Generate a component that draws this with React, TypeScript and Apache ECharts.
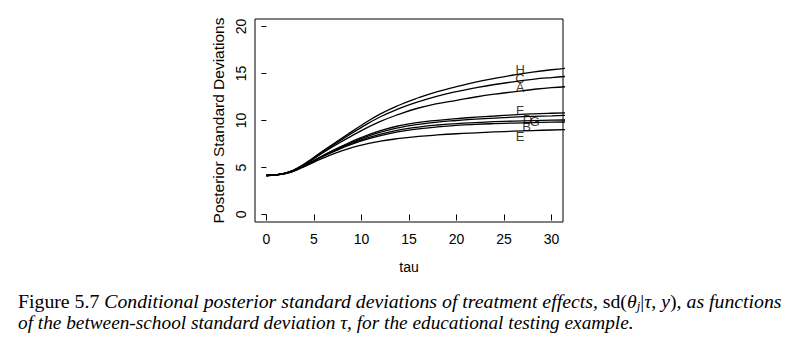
import React, { useEffect, useRef } from "react";
import * as echarts from "echarts";

const tauGrid = [0, 2, 4, 6, 8, 10, 12, 14, 16, 18, 20, 22, 24, 26, 28, 30, 32];

const schoolNames = ["H", "C", "A", "F", "D", "G", "B", "E"];

const sdH = [4.15, 4.4, 5.4, 6.8, 8.15, 9.5, 10.7, 11.65, 12.42, 13.07, 13.6, 14.08, 14.48, 14.84, 15.15, 15.4, 15.6];
const sdC = [4.15, 4.4, 5.35, 6.7, 8.0, 9.27, 10.4, 11.28, 12.0, 12.6, 13.08, 13.48, 13.83, 14.12, 14.38, 14.57, 14.72];
const sdA = [4.15, 4.4, 5.3, 6.6, 7.8, 8.92, 9.9, 10.68, 11.33, 11.8, 12.15, 12.5, 12.8, 13.05, 13.3, 13.5, 13.62];
const sdF = [4.15, 4.38, 5.2, 6.3, 7.3, 8.2, 8.92, 9.45, 9.8, 10.02, 10.2, 10.35, 10.48, 10.6, 10.7, 10.77, 10.82];
const sdD = [4.15, 4.37, 5.18, 6.27, 7.24, 8.08, 8.76, 9.25, 9.58, 9.83, 10.0, 10.14, 10.26, 10.36, 10.44, 10.5, 10.55];
const sdG = [4.15, 4.37, 5.16, 6.22, 7.16, 7.95, 8.55, 9.0, 9.3, 9.52, 9.67, 9.78, 9.87, 9.94, 9.99, 10.03, 10.06];
const sdB = [4.15, 4.36, 5.15, 6.2, 7.08, 7.83, 8.4, 8.82, 9.11, 9.32, 9.48, 9.59, 9.67, 9.73, 9.78, 9.82, 9.85];
const sdE = [4.15, 4.35, 5.1, 6.02, 6.8, 7.38, 7.8, 8.09, 8.3, 8.46, 8.59, 8.69, 8.78, 8.86, 8.93, 8.99, 9.04];

const curves = [sdH, sdC, sdA, sdF, sdD, sdG, sdB, sdE];

// letter labels: [tau, sd, letter]
const letterLabels: [number, number, string][] = [
  [26.69, 15.46, "H"],
  [26.67, 14.47, "C"],
  [26.69, 13.59, "A"],
  [26.67, 11.12, "F"],
  [27.45, 10.14, "D"],
  [28.23, 9.93, "G"],
  [27.38, 9.39, "B"],
  [26.69, 8.33, "E"],
];

const xTicks = [0, 5, 10, 15, 20, 25, 30];
const yTicks = [0, 5, 10, 15, 20];

const captionLine1 =
  "{r|Figure 5.7 }{i|Conditional posterior standard deviations of treatment effects, }{r|sd(}{i|θ}{sub|j}{r||}{i|τ}{r|, }{i|y}{r|), }{i|as functions}";
const captionLine2 =
  "{i|of the between-school standard deviation τ, for the educational testing example.}";

export default function App() {
  const ref = useRef<HTMLDivElement>(null);
  useEffect(() => {
    if (!ref.current) return;
    const chart = echarts.init(ref.current, null, { renderer: "svg" });
    const sans = "Liberation Sans";
    const serif = "Liberation Serif";
    const lineSeries = curves.map((vals, k) => ({
      type: "line",
      name: schoolNames[k],
      data: tauGrid.map((t, i) => [t, vals[i]]),
      showSymbol: false,
      symbol: "none",
      smooth: 0.5,
      clip: true,
      color: "#000",
      lineStyle: { color: "#000", width: 1.3 },
      z: 2,
    }));
    const capSize = 19.8;
    const labelStyle = {
      show: true,
      position: "top",
      distance: 0,
      offset: [0, 7],
      formatter: (p: any) => p.name,
      fontFamily: sans,
      fontSize: 13,
      color: "#000",
      textBorderWidth: 0,
    };
    const option = {
      animation: false,
      backgroundColor: "#fff",
      color: ["#000"],
      grid: {
        left: 255,
        top: 19,
        width: 308,
        height: 203,
        show: true,
        borderColor: "#000",
        borderWidth: 1,
        backgroundColor: "transparent",
      },
      xAxis: {
        type: "value",
        min: -1.2,
        max: 31.2,
        name: "tau",
        nameLocation: "middle",
        nameGap: 38,
        nameTextStyle: { fontFamily: sans, fontSize: 14, color: "#000" },
        axisLine: { show: false },
        axisTick: { show: true, length: 6, inside: false, customValues: xTicks, lineStyle: { color: "#000" } },
        axisLabel: { customValues: xTicks, fontFamily: sans, fontSize: 14, color: "#000", margin: 10 },
        splitLine: { show: false },
      },
      yAxis: {
        type: "value",
        min: -0.8,
        max: 20.8,
        name: "Posterior Standard Deviations",
        nameLocation: "middle",
        nameGap: 29,
        nameTextStyle: { fontFamily: sans, fontSize: 15.5, color: "#000" },
        axisLine: { show: false },
        axisTick: { show: true, length: 5, inside: false, customValues: yTicks, lineStyle: { color: "#000" } },
        axisLabel: { customValues: yTicks, rotate: 90, fontFamily: sans, fontSize: 14, color: "#000", margin: 7 },
        splitLine: { show: false },
      },
      series: [
        ...lineSeries,
        {
          type: "scatter",
          colorBy: "series",
          color: "#000",
          itemStyle: { color: "#000" },
          data: letterLabels.map((d) => ({
            value: [d[0], d[1]],
            name: d[2],
          })),
          symbolSize: 0,
          z: 3,
          label: labelStyle,
          emphasis: { disabled: true },
        },
      ],
      graphic: [
        {
          type: "text",
          left: 18,
          top: 291,
          style: {
            text: captionLine1,
            fill: "#000",
            rich: {
              r: { fontFamily: serif, fontSize: capSize, fontStyle: "normal", fill: "#000" },
              i: { fontFamily: serif, fontSize: capSize, fontStyle: "italic", fill: "#000" },
              sub: { fontFamily: serif, fontSize: 13, fontStyle: "italic", fill: "#000", verticalAlign: "bottom", padding: [8, 0, 0, 0] },
            },
          },
        },
        {
          type: "text",
          left: 18,
          top: 313,
          style: {
            text: captionLine2,
            fill: "#000",
            rich: {
              i: { fontFamily: serif, fontSize: 19.3, fontStyle: "italic", fill: "#000" },
            },
          },
        },
      ],
    };
    chart.setOption(option as any);
    return () => chart.dispose();
  }, []);
  return (
    <div
      ref={ref}
      style={{ position: "absolute", left: 0, top: 0, width: 794, height: 358, background: "#fff" }}
    />
  );
}
